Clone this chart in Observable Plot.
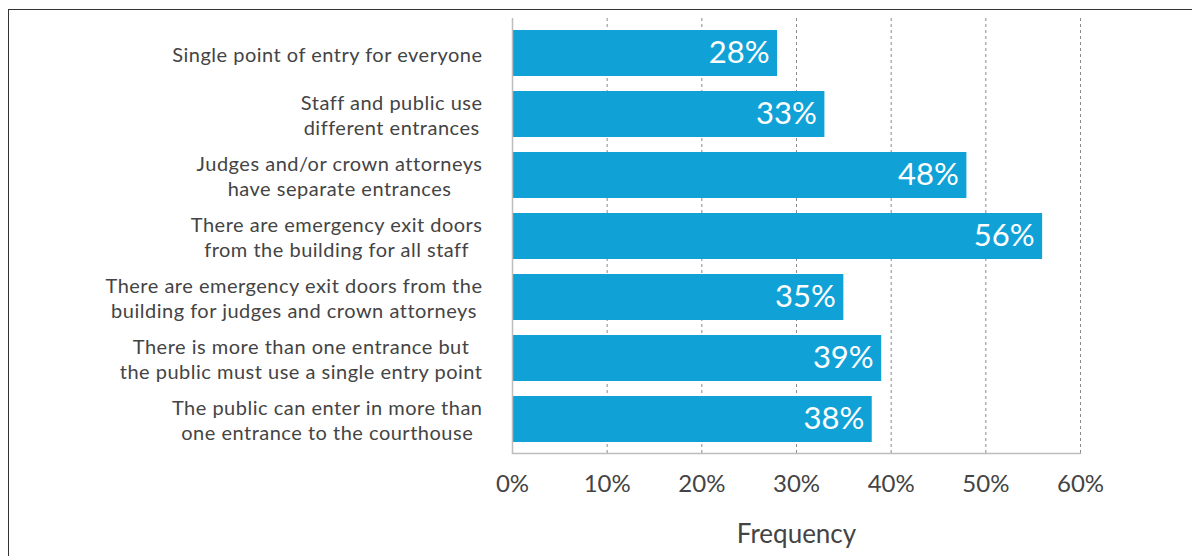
<!DOCTYPE html>
<html>
<head>
<meta charset="utf-8">
<script src="https://cdn.jsdelivr.net/npm/d3@7"></script>
<script src="https://cdn.jsdelivr.net/npm/@observablehq/plot@0.6"></script>
<style>
  html, body { margin: 0; padding: 0; background: #fff; overflow: hidden; width: 1192px; height: 556px; }
  #frame { position: absolute; left: 8px; top: 9px; width: 1400px; height: 800px;
           border-top: 1.5px solid #333; border-left: 1.5px solid #333; pointer-events: none; }
  #chart { position: absolute; left: 0; top: 0; }
  g[aria-label="bar-labels"] text { text-shadow: 1px 2px 2px rgba(0, 45, 70, 0.85); }
  g[aria-label="y-axis tick label"] text { letter-spacing: 0.5px; }
</style>
</head>
<body>
<div id="chart"></div>
<div id="frame"></div>
<script>
const categories = [
  "Single point of entry for everyone",
  "Staff and public use\ndifferent entrances",
  "Judges and/or crown attorneys\nhave separate entrances",
  "There are emergency exit doors\nfrom the building for all staff",
  "There are emergency exit doors from the\nbuilding for judges and crown attorneys",
  "There is more than one entrance but\nthe public must use a single entry point",
  "The public can enter in more than\none entrance to the courthouse"
];
const values = [28, 33, 48, 56, 35, 39, 38];
const xTicks = [0, 10, 20, 30, 40, 50, 60];
const xLabel = "Frequency";

const data = categories.map((c, i) => ({category: c, value: values[i]}));

const plot = Plot.plot({
  width: 1192,
  height: 556,
  marginLeft: 512,
  marginRight: 112,
  marginTop: 18,
  marginBottom: 103,
  style: {fontFamily: "Lato, 'Open Sans', sans-serif", color: "#444", background: "transparent"},
  x: {domain: [0, 60], ticks: xTicks, label: null},
  y: {domain: categories, paddingInner: 0.25, paddingOuter: 0.18, label: null},
  marks: [
    Plot.gridX(xTicks.slice(1), {stroke: "#8a8a8a", strokeOpacity: 1, strokeDasharray: "3,3"}),
    Plot.barX(data, {x: "value", y: "category", fill: "#10a2d7"}),
    Plot.ruleX([0], {stroke: "#bdbdbd", strokeWidth: 1.5}),
    Plot.frame({anchor: "bottom", stroke: "#bdbdbd", strokeWidth: 1.5}),
    Plot.text(data, {x: "value", y: "category", text: d => d.value + "%", textAnchor: "end", dx: -8,
                     fill: "white", fontSize: 31, ariaLabel: "bar-labels"}),
    Plot.axisY({tickSize: 0, tickPadding: 30, fontSize: 20, lineHeight: 1.25, label: null}),
    Plot.axisX({tickSize: 0, tickPadding: 21, fontSize: 24, tickFormat: d => d + "%", label: null}),
    Plot.axisX({ticks: [], tickSize: 0, fontSize: 26, label: xLabel, labelAnchor: "center",
                labelArrow: "none", labelOffset: 89})
  ]
});
document.getElementById("chart").append(plot);

// center the lines of each category label within its own block, block right-aligned
plot.querySelectorAll('g[aria-label="y-axis tick label"] text').forEach(t => {
  const w = t.getBBox().width;
  t.setAttribute("text-anchor", "middle");
  const tr = t.getAttribute("transform") || "";
  t.setAttribute("transform", tr + ` translate(${-w / 2},0)`);
});
</script>
</body>
</html>
